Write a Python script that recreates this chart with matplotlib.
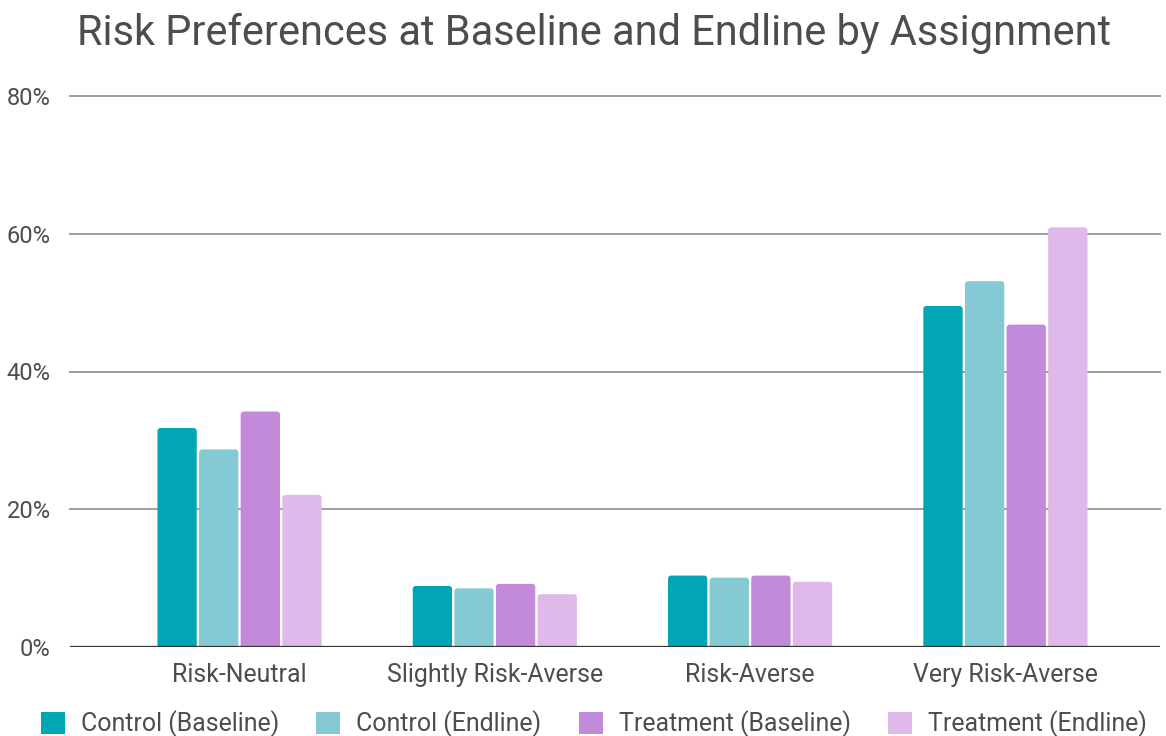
import matplotlib
matplotlib.use("Agg")
import matplotlib.pyplot as plt
import numpy as np
from matplotlib.patches import Patch, FancyBboxPatch

plt.rcParams['font.family'] = ['Roboto', 'DejaVu Sans']

categories = ["Risk-Neutral", "Slightly Risk-Averse", "Risk-Averse", "Very Risk-Averse"]
series_names = ["Control (Baseline)", "Control (Endline)", "Treatment (Baseline)", "Treatment (Endline)"]
control_baseline = [31.8, 8.9, 10.4, 49.5]
control_endline = [28.7, 8.55, 10.1, 53.1]
treatment_baseline = [34.2, 9.2, 10.4, 46.8]
treatment_endline = [22.1, 7.7, 9.5, 60.9]
y_ticks = [0, 20, 40, 60, 80]
y_tick_labels = ["0%", "20%", "40%", "60%", "80%"]

series = [control_baseline, control_endline, treatment_baseline, treatment_endline]
colors = ["#00A6B3", "#84C9D3", "#C38ADA", "#DFB9EA"]
text_color = "#4d4d4d"

W, H = 1166, 736
fig = plt.figure(figsize=(W / 100, H / 100), dpi=100)
ax = fig.add_axes([70 / W, 1 - 647.3 / H, (1160 - 70) / W, (647.3 - 95.7) / H])

ax.set_xlim((70 - 239.5) / 255.3, (1160 - 239.5) / 255.3)
ax.set_ylim(0, 80)

x = np.arange(len(categories))
pitch = 0.163
width = 0.154

# rounding radius of bar corners, in data units along x and y
rx = 3.0 / 255.3
ry = 3.0 / 6.895
for i, (vals, c, name) in enumerate(zip(series, colors, series_names)):
    bars = ax.bar(x + (i - 1.5) * pitch, vals, width=width, color=c, linewidth=0,
                  zorder=3, label=name)
    for rect in bars:
        rect.set_visible(False)
        fb = FancyBboxPatch((rect.get_x(), -ry), rect.get_width(), rect.get_height() + ry,
                            boxstyle=f"round,pad=0,rounding_size={rx}",
                            mutation_aspect=ry / rx, facecolor=c, edgecolor="none",
                            zorder=3)
        ax.add_patch(fb)

ax.set_yticks(y_ticks)
ax.set_yticklabels(y_tick_labels)
ax.set_xticks(x)
ax.set_xticklabels(categories)

for t in y_ticks:
    if t == 0:
        ax.axhline(t, color="#333333", linewidth=1.6, zorder=4)
    else:
        ax.axhline(t, color="#9e9e9e", linewidth=1.4, zorder=1, clip_on=False)

for s in ax.spines.values():
    s.set_visible(False)
ax.tick_params(axis="both", length=0, colors=text_color)
ax.tick_params(axis="y", pad=14, labelsize=17)
ax.tick_params(axis="x", pad=11, labelsize=17.9)

fig.text(594 / W, 1 - 33 / H, "Risk Preferences at Baseline and Endline by Assignment",
         ha="center", va="center", fontsize=29.9, color=text_color)

handles = [Patch(facecolor=c, edgecolor="none") for c in colors]
fig.legend(handles, series_names, loc="center", bbox_to_anchor=(594 / W, 1 - 724 / H),
           ncol=4, frameon=False, fontsize=17.9, handlelength=0.96, handleheight=1.0,
           handletextpad=0.65, columnspacing=1.5, labelcolor=text_color,
           borderpad=0.2)

fig.savefig("out.png", dpi=100, facecolor="white")
